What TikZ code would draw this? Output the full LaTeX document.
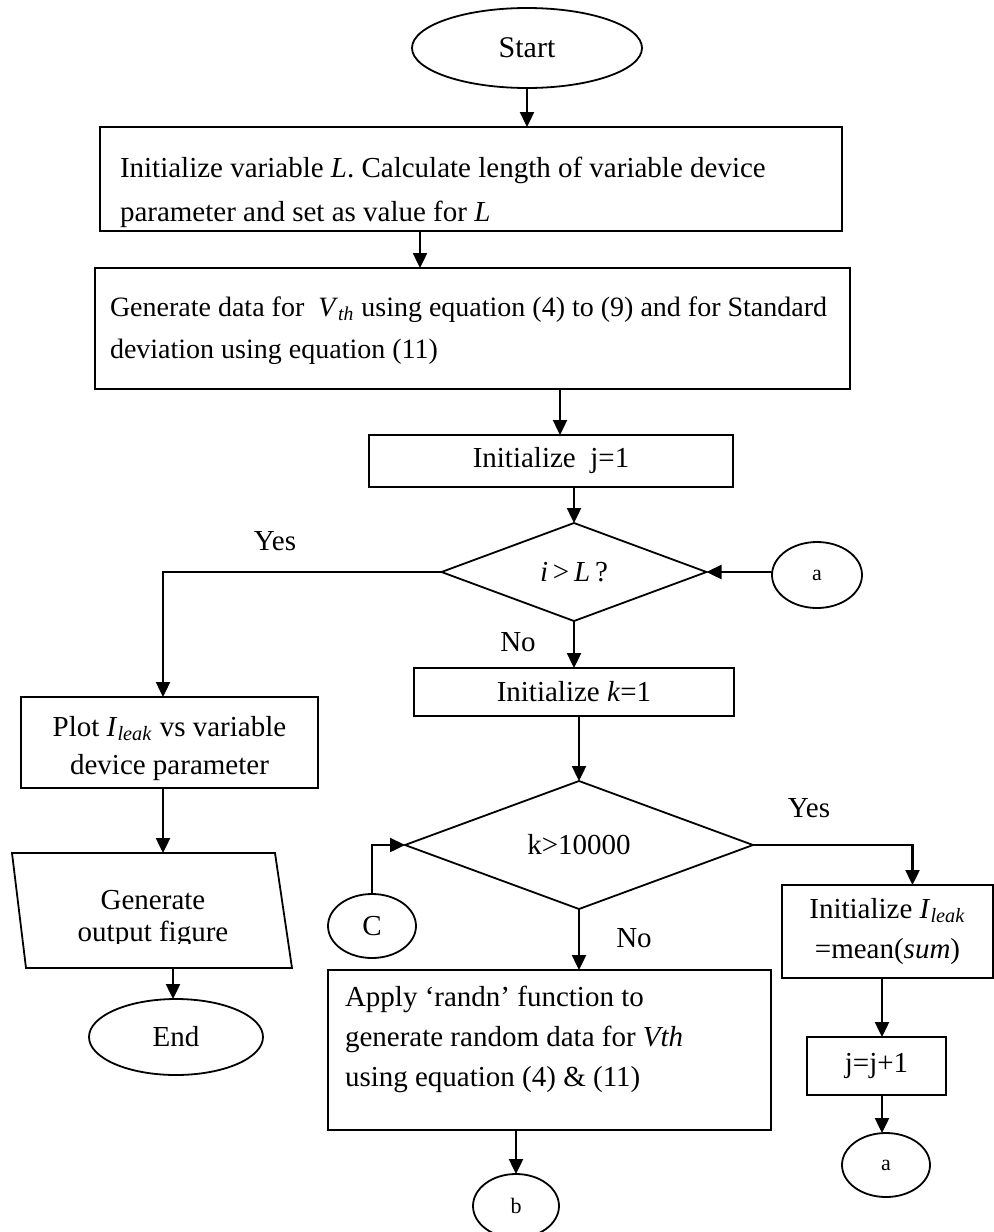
\documentclass[tikz,border=0pt]{standalone}
\usepackage{fontspec}
\setmainfont{Liberation Serif}
\usetikzlibrary{shapes.geometric,arrows.meta,calc}
\begin{document}
\begin{tikzpicture}[x=0.5pt,y=-0.5pt,
  font=\fontsize{14.5}{20}\selectfont,
  every node/.style={inner sep=0pt, outer sep=0pt},
  boxnode/.style={draw, line width=0.9pt, rectangle},
  oval/.style={draw, line width=0.9pt, ellipse},
  decision/.style={draw, line width=0.9pt, diamond, aspect=2.6},
  boxtext/.style={anchor=west, align=left},
  small/.style={font=\fontsize{11}{13}\selectfont},
  arr/.style={line width=1.2pt, -{Triangle[length=7.5pt,width=7pt]}},
  lbl/.style={font=\fontsize{14.5}{20}\selectfont}]
\useasboundingbox (0,0) rectangle (994,1232);

% main column
\node[oval, minimum width=115pt, minimum height=40pt, font=\fontsize{15}{20}\selectfont] (start) at (527,48) {Start};

\node[boxnode, minimum width=371pt, minimum height=52pt] (init) at (471,179) {};
\node[boxtext, font=\fontsize{14.5}{22}\selectfont] (initTxt) at ([xshift=10pt,yshift=-6.5pt]init.west)
  {Initialize variable \textit{L}. Calculate length of variable device\\parameter and set as value for \textit{L}};

\node[boxnode, minimum width=377.5pt, minimum height=60.5pt] (gen) at (472.5,328.5) {};
\node[boxtext, font=\fontsize{14}{21}\selectfont] (genTxt) at ([xshift=7.5pt,yshift=-1pt]gen.west)
  {Generate data for \ \textit{V}\textsubscript{\textit{th}} using equation (4) to (9) and for Standard\\deviation using equation (11)};

\node[boxnode, minimum width=182pt, minimum height=26pt] (initj) at (551,461) {Initialize \ j=1};
\node[decision, minimum width=132.5pt, minimum height=49pt] (dia1) at (574,572) {\textit{i}\,>\,\textit{L}\,?};
\node[oval, small, minimum width=45pt, minimum height=33pt] (cona) at (817,575) {a};
\node[boxnode, minimum width=160pt, minimum height=24pt] (initk) at (574,692) {Initialize \textit{k}=1};
\node[decision, minimum width=174pt, minimum height=64pt] (dia2) at (579,845) {k>10000};
\node[oval, minimum width=44pt, minimum height=32pt] (conc) at (372,926) {C};

\node[boxnode, minimum width=221.5pt, minimum height=80pt] (apply) at (549.5,1050) {};
\node[boxtext, font=\fontsize{14.5}{20}\selectfont] (applyTxt) at ([xshift=8.5pt,yshift=5.5pt]apply.west)
  {Apply ‘randn’ function to\\generate random data for \textit{Vth}\\using equation (4) \& (11)};
\node[oval, small, minimum width=43pt, minimum height=32pt] (conb) at (516,1206) {b};

% right branch
\node[boxnode, minimum width=105.5pt, minimum height=46.5pt, align=center] (ileak) at (887.5,931.5)
  {Initialize \textit{I}\textsubscript{\textit{leak}}\\=mean(\textit{sum})};
\node[boxnode, minimum width=69.5pt, minimum height=29pt] (incj) at (876.5,1066) {j=j+1\hspace{7pt}};
\node[oval, small, minimum width=44pt, minimum height=32pt] (cona2) at (886,1165) {a};

% left branch
\node[boxnode, minimum width=148.5pt, minimum height=45.5pt] (plot) at (169.5,742.5) {};
\node[align=center, font=\fontsize{14.5}{19}\selectfont] (plotTxt) at ([yshift=-3pt]plot.center)
  {Plot \textit{I}\textsubscript{\textit{leak}} vs variable\\device parameter};
\coordinate (pTL) at (12,853);
\coordinate (pTR) at (275,853);
\coordinate (pBR) at (292,968);
\coordinate (pBL) at (26,968);
\draw[line width=0.9pt] (pTL) -- (pTR) -- (pBR) -- (pBL) -- cycle;
\begin{scope}
  \clip (0,853) rectangle (300,943);
  \node[align=center, font=\fontsize{14.5}{16}\selectfont] (outp) at (153,919) {Generate\\output figure};
\end{scope}
\coordinate (outTop) at (163,853);
\coordinate (outBot) at (173,968);
\node[oval, minimum width=87pt, minimum height=38pt] (endn) at (176,1037) {End};

% branch labels
\node[lbl] (yes1) at (275,541) {Yes};
\node[lbl] (no1) at (518,642) {No};
\node[lbl] (yes2) at (809,808) {Yes};
\node[lbl] (no2) at (634,938) {No};

% connectors
\draw[arr] (start.south) -- (start.south |- init.north);
\draw[arr] ([xshift=-25.5pt]init.south) -- ([xshift=-25.5pt]init.south |- gen.north);
\draw[arr] ([xshift=4.5pt]initj.north |- gen.south) -- ([xshift=4.5pt]initj.north);
\draw[arr] (dia1.north |- initj.south) -- (dia1.north);
\draw[arr] (cona.west |- dia1.east) -- (dia1.east);
\draw[arr] (dia1.west) -| (outTop |- plot.north);
\draw[arr] (dia1.south) -- (initk.north);
\draw[arr] (dia2.north |- initk.south) -- (dia2.north);
\draw[arr] (conc.north) |- (dia2.west);
\draw[arr] (dia2.east) -| ([xshift=12.5pt]ileak.north);
\draw[arr] (dia2.south) -- (dia2.south |- apply.north);
\draw[arr] (conb.north |- apply.south) -- (conb.north);
\draw[arr] ([xshift=-2pt]cona2.north |- ileak.south) -- ([xshift=-2pt]cona2.north |- incj.north);
\draw[arr] ([xshift=-2pt]cona2.north |- incj.south) -- ([xshift=-2pt]cona2.north);
\draw[arr] (outTop |- plot.south) -- (outTop);
\draw[arr] (outBot) -- (outBot |- endn.north);
\end{tikzpicture}
\end{document}
